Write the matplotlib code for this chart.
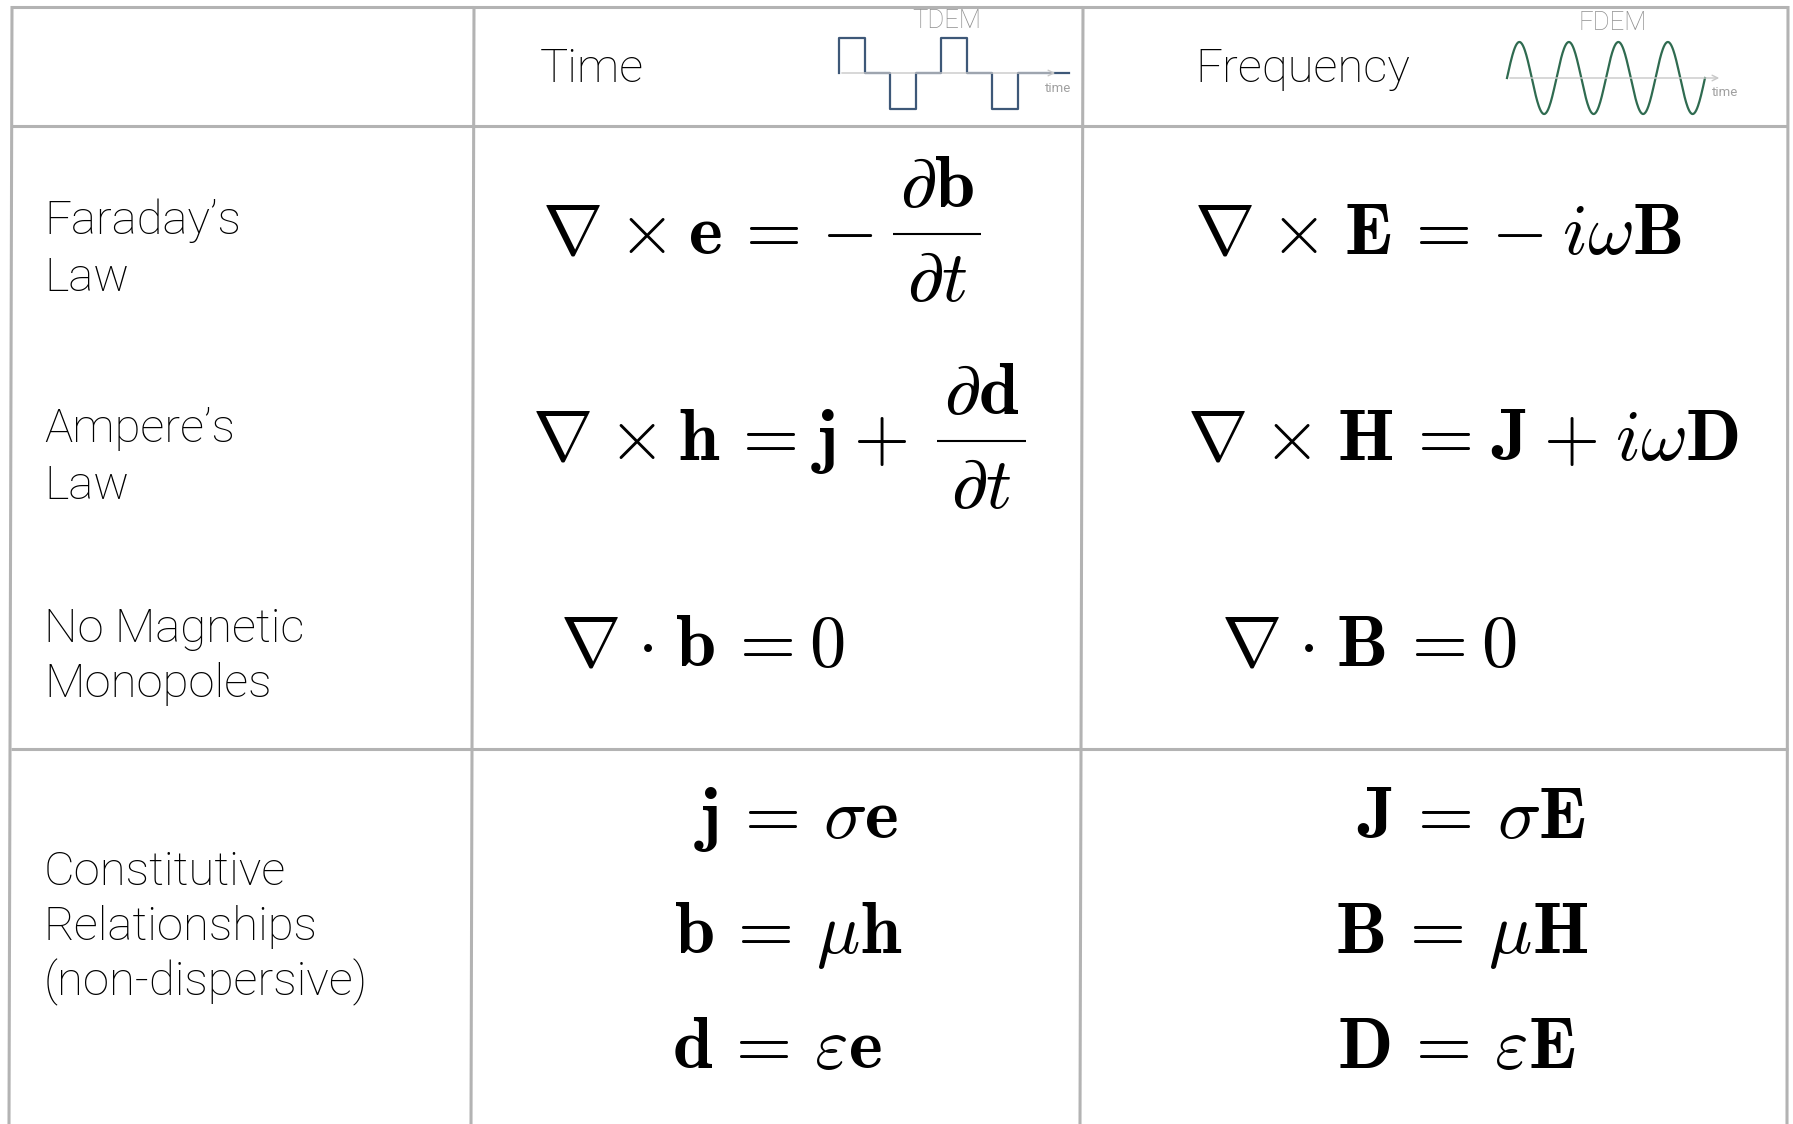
import numpy as np
import matplotlib.pyplot as plt

plt.rcParams['mathtext.fontset'] = 'cm'

# table content
col_heads = ['Time', 'Frequency']
wave_tags = ['TDEM', 'FDEM']
row_heads = [
    ['Faraday’s', 'Law'],
    ['Ampere’s', 'Law'],
    ['No Magnetic', 'Monopoles'],
    ['Constitutive', 'Relationships', '(non-dispersive)'],
]
# (left part, optional fraction as (numerator, denominator))
time_eqs = [
    (r'\nabla\hspace{0.06}\times\hspace{0.02}\mathbf{e}\,=\hspace{-0.08}-',
     (r'\partial\mathbf{b}', r'\partial t')),
    (r'\nabla\hspace{0.06}\times\hspace{0.02}\mathbf{h}\,=\hspace{0.08}\mathbf{j}\hspace{0.05}+',
     (r'\partial\mathbf{d}', r'\partial t')),
    (r'\nabla\hspace{0.08}\cdot\hspace{0.08}\mathbf{b}\,=\hspace{0.03}0', None),
]
freq_eqs = [
    (r'\nabla\hspace{0.06}\times\hspace{0.08}\mathbf{E}\,=\hspace{-0.08}-\hspace{0.04}i\omega\mathbf{B}',
     None),
    (r'\nabla\hspace{0.06}\times\hspace{0.08}\mathbf{H}\,=\hspace{0.08}\mathbf{J}\hspace{0.04}+'
     r'\hspace{0.05}i\omega\mathbf{D}', None),
    (r'\nabla\hspace{0.08}\cdot\hspace{0.08}\mathbf{B}\,=\hspace{0.03}0', None),
]
time_const = [r'\mathbf{j}\,=\,\sigma\mathbf{e}', r'\mathbf{b}\,=\,\mu\mathbf{h}',
              r'\mathbf{d}\,=\,\varepsilon\mathbf{e}']
freq_const = [r'\mathbf{J}\,=\,\sigma\mathbf{E}', r'\mathbf{B}\,=\,\mu\mathbf{H}',
              r'\mathbf{D}\,=\,\varepsilon\mathbf{E}']

# icon waveforms
square_levels = [0, 1, 0, -1, 0, 1, 0, -1, 0, 0]
sine_cycles = 4

fig = plt.figure(figsize=(17.93, 11.24), dpi=100)
ax = fig.add_axes([0, 0, 1, 1])
ax.set_xlim(0, 1793)
ax.set_ylim(1124, 0)
ax.axis('off')
renderer = fig.canvas.get_renderer()

grid = '#b3b3b3'
lw = 2.2
for y in [7, 126, 749]:
    ax.plot([11, 1788], [y, y], color=grid, lw=lw, solid_capstyle='butt')
for xt, xb in [(12, 9), (474, 471), (1083, 1080), (1788, 1787)]:
    ax.plot([xt, xb], [6, 1124], color=grid, lw=lw, solid_capstyle='butt')

sans = dict(family='Roboto', weight='light', color='black')
ax.text(540, 82, col_heads[0], fontsize=34, va='baseline', **sans)
ax.text(1195, 82, col_heads[1], fontsize=34, va='baseline', **sans)

# row labels
label_base = [[234, 291], [442, 499], [642, 697], [885, 940, 995]]
for lines, bases in zip(row_heads, label_base):
    for s, yb in zip(lines, bases):
        ax.text(44, yb, s, fontsize=34, va='baseline', **sans)

# icons
gray = '#8f8f8f'
ax.text(947, 21, wave_tags[0], fontsize=18.5, ha='center', va='center', family='Roboto',
        weight='light', color=gray)
ax.text(1613, 23, wave_tags[1], fontsize=18.5, ha='center', va='center', family='Roboto',
        weight='light', color=gray)

seg = 25.5
x0, y0, amp = 839, 73, 35.5
ax.annotate('', xy=(1058, y0), xytext=(x0, y0),
            arrowprops=dict(arrowstyle='->', color='#c8c8c8', lw=1))
xs = x0 + seg * np.arange(len(square_levels) - 1)
ax.step(np.append(xs, xs[-1] + seg), y0 - amp * np.array(square_levels),
        where='pre', color='#3e5878', lw=1.6)
ax.text(1045, 88, 'time', fontsize=9.5, va='center', color='#a0a0a0', family='Roboto')

sx0, sx1, sy0, samp = 1507, 1705, 78, 36
ax.annotate('', xy=(1722, sy0), xytext=(sx0, sy0),
            arrowprops=dict(arrowstyle='->', color='#c8c8c8', lw=1))
t = np.linspace(0, 1, 400)
ax.plot(sx0 + (sx1 - sx0) * t, sy0 - samp * np.sin(2 * np.pi * sine_cycles * t),
        color='#2f6b50', lw=1.6)
ax.text(1712, 93, 'time', fontsize=9.5, va='center', color='#a0a0a0', family='Roboto')

# equations
eq_size = 52
inv = ax.transData.inverted()


def width_px(txt):
    bb = txt.get_window_extent(renderer)
    return bb.x1 - bb.x0


def put_eq(x, y, lhs, frac, gap=22):
    main = ax.text(x, y, '$' + lhs + '$', fontsize=eq_size, va='baseline')
    if frac is None:
        return
    bb = main.get_window_extent(renderer)
    x_end = inv.transform((bb.x1, bb.y0))[0]
    num = ax.text(0, 0, '$' + frac[0] + '$', fontsize=eq_size, ha='center', va='baseline')
    den = ax.text(0, 0, '$' + frac[1] + '$', fontsize=eq_size, ha='center', va='baseline')
    w = max(width_px(num), width_px(den)) + 14
    xc = x_end + gap + w / 2
    ybar = y - 19
    num.set_position((xc, ybar - 27))
    den.set_position((xc, ybar + 67))
    ax.plot([xc - w / 2, xc + w / 2], [ybar, ybar], color='black', lw=1.5,
            solid_capstyle='butt')


time_pos = [(542, 253), (532, 460), (560, 665)]
frac_gap = [19, 29, 0]
freq_pos = [(1194, 253), (1187, 460), (1221, 665)]
for (lhs, frac), (x, y), g in zip(time_eqs, time_pos, frac_gap):
    put_eq(x, y, lhs, frac, g)
for (lhs, frac), (x, y) in zip(freq_eqs, freq_pos):
    put_eq(x, y, lhs, frac)

const_y = [838, 953, 1068]
for s, x, y in zip(time_const, [694, 674, 672], const_y):
    put_eq(x, y, s, None)
for s, x, y in zip(freq_const, [1357, 1335, 1337], const_y):
    put_eq(x, y, s, None)

fig.savefig('out.png', dpi=100)
